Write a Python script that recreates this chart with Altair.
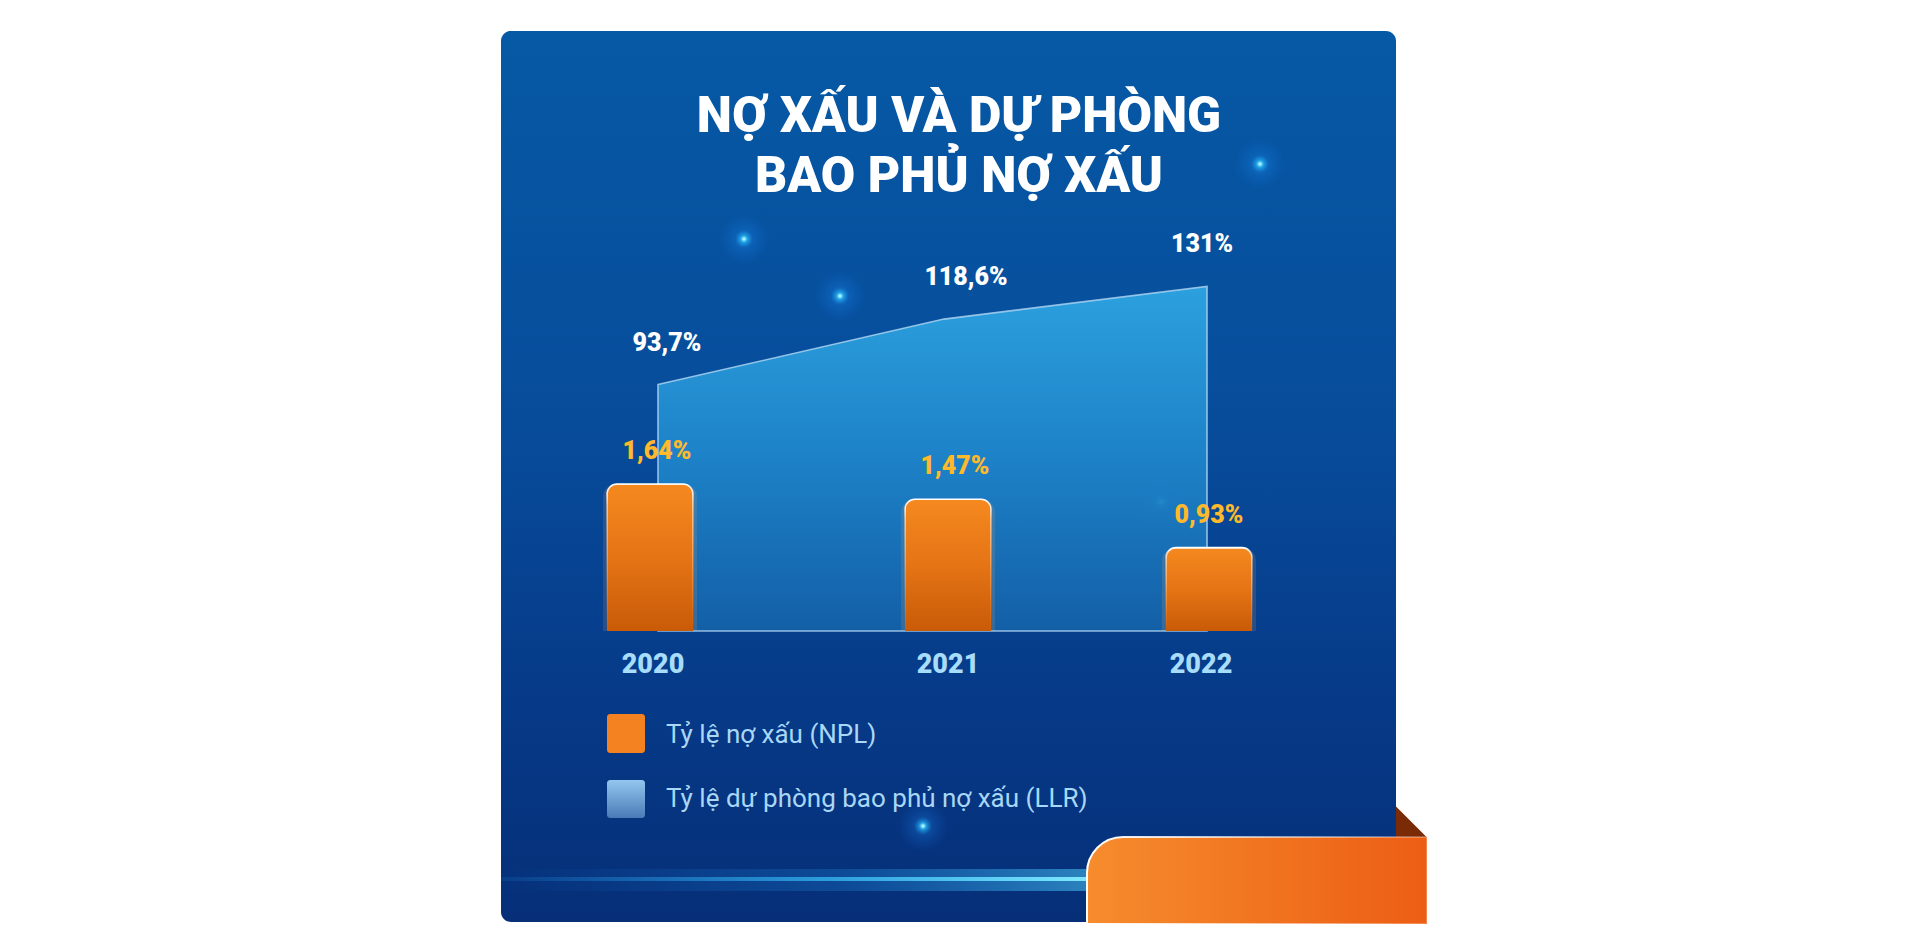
import altair as alt
import pandas as pd

# ---------------- data ----------------
years = [2020, 2021, 2022]
npl = [1.64, 1.47, 0.93]
llr = [93.7, 118.6, 131.0]
npl_labels = ["1,64%", "1,47%", "0,93%"]
llr_labels = ["93,7%", "118,6%", "131%"]
year_labels = ["2020", "2021", "2022"]
title_lines = ["NỢ XẤU VÀ DỰ PHÒNG", "BAO PHỦ NỢ XẤU"]
legend_labels = ["Tỷ lệ nợ xấu (NPL)", "Tỷ lệ dự phòng bao phủ nợ xấu (LLR)"]

df = pd.DataFrame({
    "year": years,
    "npl": npl,
    "llr": llr,
    "npl_label": npl_labels,
    "llr_label": llr_labels,
    "year_label": year_labels,
})
one = pd.DataFrame({"k": [0]})

# decorative glow dots (pixel positions inside the card)
glow_x = [243, 339, 759, 660, 422]
glow_y = [208, 265, 133, 471, 795]
glow = pd.DataFrame({"px": glow_x, "py": glow_y})

W, H = 895, 891
FONT = "Roboto"


def grad(stops, horizontal=False):
    return alt.Gradient(
        gradient="linear",
        stops=[alt.GradientStop(color=c, offset=o) for o, c in stops],
        x1=0, y1=0,
        x2=1 if horizontal else 0,
        y2=0 if horizontal else 1,
    )


def rgrad(stops):
    return alt.Gradient(
        gradient="radial",
        stops=[alt.GradientStop(color=c, offset=o) for o, c in stops],
        x1=0.5, y1=0.5, r1=0, x2=0.5, y2=0.5, r2=0.5,
    )


def xs(rng):
    return alt.X("year:Q", scale=alt.Scale(domain=years, range=rng, padding=0), axis=None)


bar_x = xs([149, 447, 708])
area_x = xs([157, 443, 706])
npl_lab_x = xs([156, 454, 708])
llr_lab_x = xs([166, 465, 701])
year_x = xs([152, 447, 700])
bar_y = alt.Y("npl:Q", scale=alt.Scale(domain=[0, 1], range=[600, 510.4]), axis=None)
area_y = alt.Y("llr:Q", scale=alt.Scale(domain=[0, 100], range=[600, 337]), axis=None)

# ---------------- background card ----------------
card = alt.Chart(one).mark_rect(
    cornerRadius=10,
    fill=grad([(0, "#0659A5"), (0.45, "#074C9B"), (0.75, "#063A88"), (1, "#062F78")]),
).encode(x=alt.value(0), x2=alt.value(W), y=alt.value(0), y2=alt.value(H))

streak_soft = alt.Chart(one).mark_rect(
    fill=grad([(0, "rgba(30,150,255,0)"), (0.6, "rgba(40,170,255,0.22)"), (1, "rgba(80,210,255,0.5)")], horizontal=True),
).encode(x=alt.value(0), x2=alt.value(586), y=alt.value(838), y2=alt.value(860))

streak = alt.Chart(one).mark_rect(
    fill=grad([(0, "rgba(40,170,255,0.1)"), (0.55, "rgba(60,200,255,0.65)"), (1, "#7FE8FF")], horizontal=True),
).encode(x=alt.value(0), x2=alt.value(586), y=alt.value(846), y2=alt.value(850))

dots = alt.Chart(glow).mark_point(
    shape="circle", filled=True, size=2600, opacity=1, strokeWidth=0,
    fill=rgrad([(0, "#F2FFFF"), (0.05, "#8AEBFF"), (0.14, "rgba(40,190,255,0.7)"),
                (0.35, "rgba(30,150,255,0.22)"), (1, "rgba(20,120,255,0)")]),
).encode(x=alt.X("px:Q", scale=None), y=alt.Y("py:Q", scale=None))

fold = alt.Chart(one).mark_point(
    shape="M-1,-1L1,1L-1,1Z", filled=True, size=961, opacity=1, fill="#7A2B06", strokeWidth=0,
).encode(x=alt.value(910.5), y=alt.value(791))

orange = alt.Chart(one).mark_rect(
    cornerRadiusTopLeft=36,
    fill=grad([(0, "#F68C2D"), (1, "#EC5E14")], horizontal=True),
    stroke=grad([(0, "#FFFFFF"), (0.5, "rgba(255,255,255,0.6)"), (1, "rgba(255,255,255,0.25)")], horizontal=True),
    strokeWidth=2,
).encode(x=alt.value(586), x2=alt.value(926), y=alt.value(806), y2=alt.value(893))

# ---------------- data marks ----------------
area = alt.Chart(df).mark_area(
    fill=grad([(0, "#2FA7E4"), (0.5, "#1F86CB"), (1, "#1462A9")]),
    fillOpacity=0.92,
    stroke="#A9D2F0",
    strokeWidth=1.6,
    strokeOpacity=0.85,
).encode(x=area_x, y=area_y)

bar_glow = alt.Chart(df).mark_bar(
    width=94,
    cornerRadiusTopLeft=13,
    cornerRadiusTopRight=13,
    fill="rgba(255,170,90,0.15)",
).encode(x=bar_x, y=bar_y)

bars = alt.Chart(df).mark_bar(
    width=86,
    cornerRadiusTopLeft=10,
    cornerRadiusTopRight=10,
    fill=grad([(0, "#F5891F"), (0.5, "#E57415"), (1, "#C95B08")]),
    stroke=grad([(0, "#FFFFFF"), (0.15, "rgba(255,220,190,0.6)"), (1, "rgba(255,160,80,0)")]),
    strokeWidth=1.6,
).encode(x=bar_x, y=bar_y)

llr_text = alt.Chart(df).mark_text(
    font=FONT, fontSize=25, fontWeight=900, color="#FFFFFF",
    align="center", baseline="middle", dy=-42,
).encode(x=llr_lab_x, y=area_y, text="llr_label:N")

npl_text = alt.Chart(df).mark_text(
    font=FONT, fontSize=25, fontWeight=900, color="#FFB92B",
    align="center", baseline="middle", dy=-33,
).encode(x=npl_lab_x, y=bar_y, text="npl_label:N")

year_text = alt.Chart(df).mark_text(
    font=FONT, fontSize=27, fontWeight=900, color="#A7DCFA",
    align="center", baseline="alphabetic",
).encode(x=year_x, y=alt.value(642), text="year_label:N")

# ---------------- legend ----------------
leg_sq1 = alt.Chart(one).mark_rect(cornerRadius=3, fill="#F58220").encode(
    x=alt.value(106), x2=alt.value(144), y=alt.value(683), y2=alt.value(722))
leg_sq2 = alt.Chart(one).mark_rect(
    cornerRadius=3, fill=grad([(0, "#93C7EE"), (1, "#4A7BB8")])).encode(
    x=alt.value(106), x2=alt.value(144), y=alt.value(749), y2=alt.value(787))
leg_t1 = alt.Chart(one).mark_text(
    font=FONT, fontSize=26, color="#A9D7F6", align="left", baseline="alphabetic"
).encode(x=alt.value(165), y=alt.value(712), text=alt.value(legend_labels[0]))
leg_t2 = alt.Chart(one).mark_text(
    font=FONT, fontSize=26, color="#A9D7F6", align="left", baseline="alphabetic"
).encode(x=alt.value(165), y=alt.value(776), text=alt.value(legend_labels[1]))

# ---------------- title ----------------
title1 = alt.Chart(one).mark_text(
    font=FONT, fontSize=50, fontWeight=900, color="#FFFFFF", align="center", baseline="alphabetic"
).encode(x=alt.value(458), y=alt.value(101), text=alt.value(title_lines[0]))
title2 = alt.Chart(one).mark_text(
    font=FONT, fontSize=50, fontWeight=900, color="#FFFFFF", align="center", baseline="alphabetic"
).encode(x=alt.value(458), y=alt.value(161), text=alt.value(title_lines[1]))

chart = alt.layer(
    card, streak_soft, streak, dots, fold, orange,
    area, bar_glow, bars, llr_text, npl_text, year_text,
    leg_sq1, leg_sq2, leg_t1, leg_t2, title1, title2,
).resolve_scale(
    x="independent", y="independent"
).properties(
    width=W, height=H,
    padding={"left": 493, "top": 23, "right": 60, "bottom": 10},
    autosize=alt.AutoSizeParams(type="none"),
    background="white",
).configure_view(stroke=None)

chart.save("out.html", embed_options={"renderer": "svg", "actions": False})
